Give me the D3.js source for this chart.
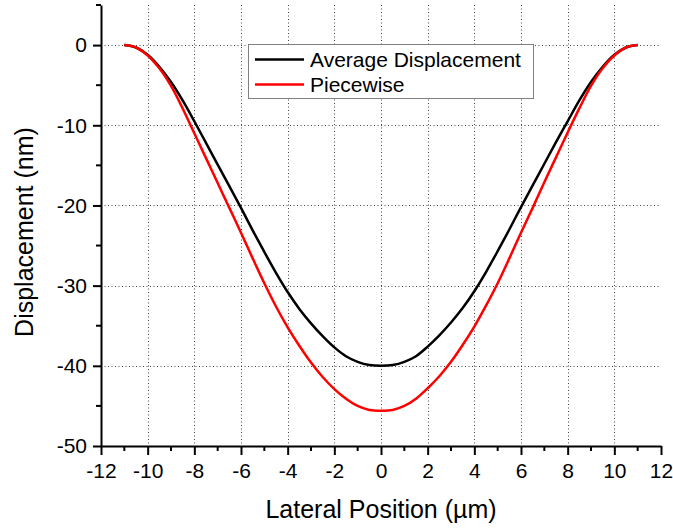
<!DOCTYPE html>
<html>
<head>
<meta charset="utf-8">
<script src="https://cdn.jsdelivr.net/npm/d3@7"></script>
<style>
  body { margin: 0; background: #fff; }
  text { font-family: Arial, "Liberation Sans", sans-serif; fill: #000; }
</style>
</head>
<body>
<div id="chart"></div>
<script>
//dimensions of the page
const width = 673;
const height = 529;
const margin = { top: 5, right: 12, bottom: 83, left: 101 };

//lateral position (um), every 0.5 um
const positions = [
  -11, -10.5, -10, -9.5, -9, -8.5, -8, -7.5, -7, -6.5, -6, -5.5, -5, -4.5, -4, -3.5, -3, -2.5, -2, -1.5, -1, -0.5,
  0, 0.5, 1, 1.5, 2, 2.5, 3, 3.5, 4, 4.5, 5, 5.5, 6, 6.5, 7, 7.5, 8, 8.5, 9, 9.5, 10, 10.5, 11
];

//average displacement (nm)
const averageDisp = [
  0, -0.3, -1.2, -2.7, -4.6, -6.9, -9.5, -12.2, -14.9, -17.6, -20.3, -23.1, -25.8, -28.4, -30.8, -32.9, -34.7, -36.3, -37.7, -38.8, -39.5, -39.9,
  -40.0, -39.9, -39.5, -38.8, -37.6, -36.2, -34.6, -32.8, -30.7, -28.3, -25.7, -23.0, -20.2, -17.5, -14.8, -12.1, -9.5, -6.9, -4.6, -2.7, -1.2, -0.3, 0
];

//piecewise displacement (nm)
const piecewiseDisp = [
  0, -0.3, -1.3, -2.9, -5.1, -7.9, -11.0, -14.1, -17.2, -20.3, -23.4, -26.6, -29.7, -32.6, -35.2, -37.5, -39.6, -41.4, -42.9, -44.1, -45.0, -45.5,
  -45.6, -45.5, -45.0, -44.1, -42.8, -41.3, -39.5, -37.4, -35.1, -32.5, -29.7, -26.6, -23.4, -20.3, -17.1, -14.0, -10.9, -7.9, -5.1, -2.9, -1.3, -0.3, 0
];

//axis ticks
const xTicks = [-12, -10, -8, -6, -4, -2, 0, 2, 4, 6, 8, 10, 12];
const xMinorTicks = [-11, -9, -7, -5, -3, -1, 1, 3, 5, 7, 9, 11];
const yTicks = [-50, -40, -30, -20, -10, 0];
const yMinorTicks = [-45, -35, -25, -15, -5, 5];

const seriesNames = ["Average Displacement", "Piecewise"];
const seriesColors = ["#000000", "#ff0000"];

const svg = d3
  .select("#chart")
  .append("svg")
  .attr("width", width)
  .attr("height", height);

const xScale = d3
  .scaleLinear()
  .domain([-12, 12])
  .range([margin.left, width - margin.right]);

const yScale = d3
  .scaleLinear()
  .domain([-50, 5])
  .range([height - margin.bottom, margin.top]);

//plain hyphen for negative numbers, like the original
const plainFormat = (d) => String(d);

//dotted grid lines
const grid = svg.append("g").attr("class", "grid")
  .attr("stroke", "#444")
  .attr("stroke-width", 1)
  .attr("stroke-dasharray", "1,2.5");

grid.selectAll(".vgrid")
  .data(xTicks.filter((d) => d > -12 && d < 12))
  .enter()
  .append("line")
  .attr("x1", (d) => Math.round(xScale(d)) + 0.5)
  .attr("x2", (d) => Math.round(xScale(d)) + 0.5)
  .attr("y1", yScale(5))
  .attr("y2", yScale(-50));

grid.selectAll(".hgrid")
  .data(yTicks.filter((d) => d > -50))
  .enter()
  .append("line")
  .attr("x1", xScale(-12))
  .attr("x2", xScale(12))
  .attr("y1", (d) => Math.round(yScale(d)) + 0.5)
  .attr("y2", (d) => Math.round(yScale(d)) + 0.5);

//x axis with major and minor ticks
const xAxis = svg.append("g")
  .attr("class", "x-axis")
  .attr("transform", `translate(0, ${yScale(-50)})`)
  .call(d3.axisBottom(xScale).tickValues(xTicks).tickFormat(plainFormat)
    .tickSize(9).tickPadding(8).tickSizeOuter(0));

xAxis.selectAll(".minor")
  .data(xMinorTicks)
  .enter()
  .append("line")
  .attr("class", "minor")
  .attr("x1", (d) => xScale(d))
  .attr("x2", (d) => xScale(d))
  .attr("y1", 0)
  .attr("y2", 5);

//y axis with major and minor ticks
const yAxis = svg.append("g")
  .attr("class", "y-axis")
  .attr("transform", `translate(${xScale(-12)}, 0)`)
  .call(d3.axisLeft(yScale).tickValues(yTicks).tickFormat(plainFormat)
    .tickSize(8).tickPadding(6).tickSizeOuter(0));

yAxis.selectAll(".minor")
  .data(yMinorTicks)
  .enter()
  .append("line")
  .attr("class", "minor")
  .attr("x1", 0)
  .attr("x2", -5)
  .attr("y1", (d) => yScale(d))
  .attr("y2", (d) => yScale(d));

svg.selectAll(".x-axis line, .y-axis line, .domain")
  .attr("stroke", "#000")
  .attr("stroke-width", 2);

svg.selectAll(".x-axis text, .y-axis text")
  .attr("font-size", "21px")
  .attr("font-family", "Arial, 'Liberation Sans', sans-serif");

//curves
const line = d3.line()
  .x((d) => xScale(d[0]))
  .y((d) => yScale(d[1]))
  .curve(d3.curveCatmullRom.alpha(0.5));

[averageDisp, piecewiseDisp].forEach((values, i) => {
  svg.append("path")
    .datum(positions.map((p, j) => [p, values[j]]))
    .attr("fill", "none")
    .attr("stroke", seriesColors[i])
    .attr("stroke-width", 2.5)
    .attr("d", line);
});

//legend box
const legend = svg.append("g").attr("class", "legend");
legend.append("rect")
  .attr("x", 248.5)
  .attr("y", 44.5)
  .attr("width", 285)
  .attr("height", 54)
  .attr("fill", "#fff")
  .attr("stroke", "#808080")
  .attr("stroke-width", 1);

seriesNames.forEach((name, i) => {
  const cy = 59.5 + i * 25;
  legend.append("line")
    .attr("x1", 255)
    .attr("x2", 304)
    .attr("y1", cy)
    .attr("y2", cy)
    .attr("stroke", seriesColors[i])
    .attr("stroke-width", 2.5);
  legend.append("text")
    .attr("x", 310)
    .attr("y", cy + 7)
    .attr("font-size", "21px")
    .text(name);
});

//axis titles
svg.append("text")
  .attr("x", xScale(0))
  .attr("y", 518)
  .attr("text-anchor", "middle")
  .attr("font-size", "25px")
  .text("Lateral Position (\u00b5m)");

svg.append("text")
  .attr("transform", "rotate(-90)")
  .attr("x", -232)
  .attr("y", 33)
  .attr("text-anchor", "middle")
  .attr("font-size", "25px")
  .text("Displacement (nm)");
</script>
</body>
</html>
